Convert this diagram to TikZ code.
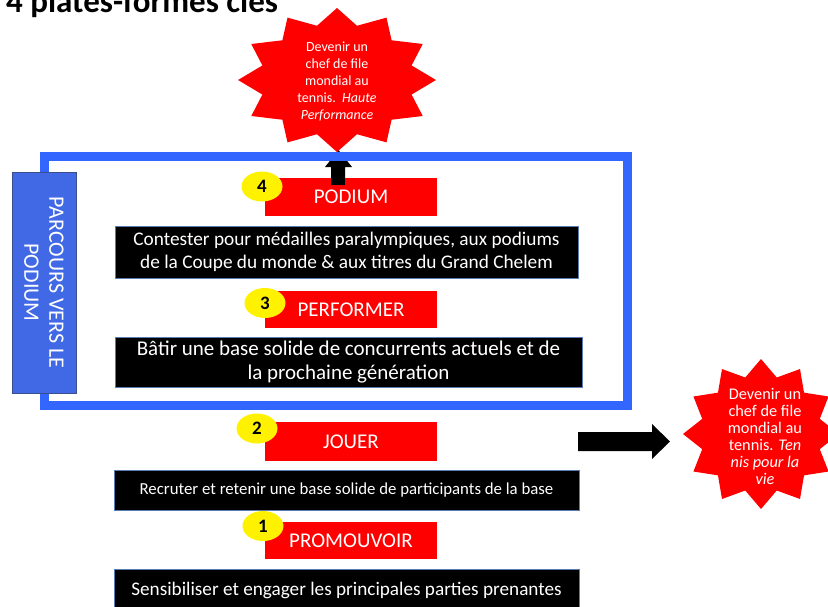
\documentclass[tikz,border=0pt]{standalone}
\usepackage{fontspec}
\setmainfont{Carlito}
\usetikzlibrary{shapes.geometric}
\definecolor{frameblue}{HTML}{3366FF}
\definecolor{sideblue}{HTML}{4169E6}
\definecolor{sideedge}{HTML}{3A4F8C}
\definecolor{boxedge}{HTML}{5B7BB5}
\definecolor{goalred}{HTML}{FF0000}
\tikzset{
  levelbox/.style={fill=goalred, text=white, minimum width=172pt, minimum height=38pt,
    inner sep=0pt, font=\fontsize{21}{24}\selectfont},
  descbox/.style={fill=black, draw=boxedge, line width=0.8pt, text=white, align=center,
    inner sep=0pt, minimum width=465pt},
  numbadge/.style={ellipse, fill=yellow, minimum width=41pt, minimum height=30pt,
    inner sep=0pt, font=\bfseries\fontsize{19}{20}\selectfont},
  goaltext/.style={text=white, align=center, font=\fontsize{14}{17}\selectfont, inner sep=0pt},
  blockarrow/.style={fill=black},
  burst/.style={fill=goalred}
}
\newcommand{\burstpath}[5]{%
  \fill[burst] ({#1},{#2-#4})
    \foreach \k in {0,...,11}{
      -- ({#1+#5*#3*cos(105+30*\k)},{#2-#5*#4*sin(105+30*\k)})
      -- ({#1+#3*cos(120+30*\k)},{#2-#4*sin(120+30*\k)})
    } -- cycle;}
\begin{document}
\begin{tikzpicture}[x=1pt,y=-1pt]
\useasboundingbox (0,0) rectangle (828,606);

% title
\node[anchor=base west, inner sep=0pt, font=\bfseries\fontsize{33}{36}\selectfont] (title) at (6,12) {4 plates-formes clés};

% up arrow (behind frame)
\fill[blockarrow] (331,185) -- (331,167) -- (325,167) -- (338.5,150) -- (352,167) -- (345,167) -- (345,185) -- cycle;

% frame
\node[draw=frameblue, line width=9pt, minimum width=583pt, minimum height=249pt, inner sep=0pt] (frame) at (336,281) {};

% side label
\node[rotate=-90, fill=sideblue, draw=sideedge, line width=0.6pt, text=white, align=center,
  minimum width=221pt, minimum height=64pt, inner sep=0pt,
  font=\fontsize{22}{25}\selectfont] (side) at (44,282.5) {PARCOURS VERS LE\\PODIUM};

% levels
\node[levelbox] (podium) at (351,197) {PODIUM};
\node[levelbox, minimum height=37pt] (performer) at (351,309.5) {PERFORMER};
\node[levelbox, minimum height=39pt] (jouer) at (351,441.5) {JOUER};
\node[levelbox, minimum height=37pt] (promouvoir) at (351,540.5) {PROMOUVOIR};

% up arrow shaft on top of podium box
\fill[blockarrow] (331,185) -- (331,170) -- (345,170) -- (345,185) -- cycle;

% badges
\node[numbadge] (b4) at (262,186.5) {4};
\node[numbadge] (b3) at (265,303) {3};
\node[numbadge] (b2) at (257,428.5) {2};
\node[numbadge] (b1) at (263,526) {1};

% descriptions
\node[descbox, minimum width=463pt, minimum height=52pt, font=\fontsize{19.3}{23}\selectfont] (contester) at (346.5,252)
  {Contester pour médailles paralympiques, aux podiums\\de la Coupe du monde \& aux titres du Grand Chelem};
\node[descbox, minimum width=467pt, minimum height=50pt, font=\fontsize{21}{24}\selectfont] (batir) at (348.5,362)
  {Bâtir une base solide de concurrents actuels et de\\la prochaine génération};
\node[descbox, minimum height=40pt, font=\fontsize{16.8}{18}\selectfont] (recruter) at (346.5,490)
  {Recruter et retenir une base solide de participants de la base};
\node[descbox, minimum height=42pt, font=\fontsize{19.2}{20}\selectfont] (sensib) at (346.5,590)
  {Sensibiliser et engager les principales parties prenantes};

% goals
\burstpath{337}{80}{99}{72}{0.78}
\node[goaltext] (goalhp) at (337,81) {Devenir un\\chef de file\\mondial au\\tennis.\ \ \textit{Haute}\\\textit{Performance}};
\burstpath{761}{434}{78}{75}{0.78}
\node[goaltext, font=\fontsize{16.3}{17}\selectfont] (goaltv) at (765,436) {Devenir un\\chef de file\\mondial au\\tennis. \textit{Ten}\\\textit{nis pour la}\\\textit{vie}};

% right arrow
\coordinate (arrS) at (578,441.5);
\fill[blockarrow] (arrS) ++(0,-9.5) -- (652,432) -- (652,424) -- (670,441.5) -- (652,459) -- (652,451) -- (578,451) -- cycle;
\end{tikzpicture}
\end{document}
